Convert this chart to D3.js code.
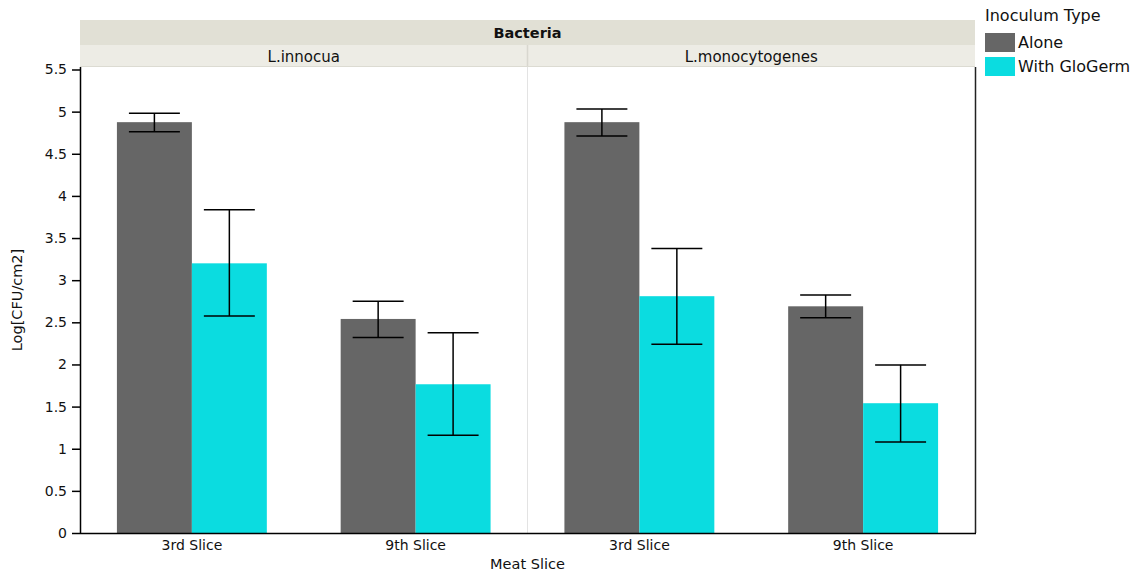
<!DOCTYPE html>
<html>
<head>
<meta charset="utf-8">
<script src="https://cdn.jsdelivr.net/npm/d3@7"></script>
<style>
  html, body { margin: 0; padding: 0; background: #fff; }
  svg { display: block; font-family: "DejaVu Sans", Verdana, sans-serif; }
</style>
</head>
<body>
<svg id="chart" width="1134" height="573"></svg>
<script>
// Bacteria panels, meat slice categories and inoculum series
const bacteria = ["L.innocua", "L.monocytogenes"];
const slices = ["3rd Slice", "9th Slice"];
const inoculum = ["Alone", "With GloGerm"];

// Mean Log[CFU/cm2], ordered: innocua 3rd, innocua 9th, mono 3rd, mono 9th
const aloneMean = [4.875, 2.54, 4.875, 2.69];
const aloneLow  = [4.76, 2.32, 4.71, 2.555];
const aloneHigh = [4.98, 2.75, 5.03, 2.825];

const gloMean = [3.20, 1.765, 2.81, 1.54];
const gloLow  = [2.575, 1.16, 2.24, 1.08];
const gloHigh = [3.835, 2.375, 3.375, 1.995];

const yTicks = [0, 0.5, 1, 1.5, 2, 2.5, 3, 3.5, 4, 4.5, 5, 5.5];
const colors = ["#666666", "#0bdce0"];

const FONT = "'DejaVu Sans', Verdana, sans-serif";
const svg = d3.select("#chart");
const left = 80, right = 975, plotTop = 67, plotBottom = 533;
const headTop = 20, headMid = 45;

const rows = [];
bacteria.forEach((b, bi) => slices.forEach((s, si) => {
  const k = bi * 2 + si;
  rows.push({ b, s, series: "Alone", mean: aloneMean[k], lo: aloneLow[k], hi: aloneHigh[k] });
  rows.push({ b, s, series: "With GloGerm", mean: gloMean[k], lo: gloLow[k], hi: gloHigh[k] });
}));

const xPanel = d3.scaleBand().domain(bacteria).range([left, right]);
const xSlice = d3.scaleBand().domain(slices).range([0, xPanel.bandwidth()])
  .paddingInner(0.33).paddingOuter(0.165);
const xSeries = d3.scaleBand().domain(inoculum).range([0, xSlice.bandwidth()]);
const color = d3.scaleOrdinal().domain(inoculum).range(colors);
const y = d3.scaleLinear().domain([0, 5.5]).range([plotBottom, plotTop + 2.5]);

// Header strips
svg.append("rect").attr("x", left).attr("y", headTop)
  .attr("width", right - left).attr("height", headMid - headTop).attr("fill", "#e1e0d5");
svg.append("text").attr("x", (left + right) / 2).attr("y", headTop + 18)
  .attr("text-anchor", "middle").style("font-size", "14.5px").attr("font-weight", "bold")
  .attr("fill", "#111").text("Bacteria");

bacteria.forEach(b => {
  const x0 = xPanel(b);
  svg.append("rect").attr("x", x0).attr("y", headMid)
    .attr("width", xPanel.bandwidth()).attr("height", plotTop - headMid).attr("fill", "#edece5");
  svg.append("text").attr("x", x0 + xPanel.bandwidth() / 2).attr("y", headMid + 17)
    .attr("text-anchor", "middle").style("font-size", "15px").attr("fill", "#111").text(b);
});
svg.append("line").attr("x1", xPanel(bacteria[1])).attr("x2", xPanel(bacteria[1]))
  .attr("y1", headMid).attr("y2", plotTop).attr("stroke", "#d8d7cf").attr("stroke-width", 1.5);
svg.append("line").attr("x1", left).attr("x2", right).attr("y1", plotTop - 0.5).attr("y2", plotTop - 0.5)
  .attr("stroke", "#dcdbd2");

// Panel divider in plot area
svg.append("line").attr("x1", xPanel(bacteria[1])).attr("x2", xPanel(bacteria[1]))
  .attr("y1", plotTop).attr("y2", plotBottom).attr("stroke", "#e3e3e3");

// Bars
const barX = d => xPanel(d.b) + xSlice(d.s) + xSeries(d.series);
svg.append("g").selectAll("rect").data(rows).join("rect")
  .attr("x", barX).attr("width", xSeries.bandwidth())
  .attr("y", d => y(d.mean)).attr("height", d => y(0) - y(d.mean))
  .attr("fill", d => color(d.series));

// Error bars
const capHalf = xSeries.bandwidth() * 0.34;
const eg = svg.append("g").attr("stroke", "#000").attr("stroke-width", 1.5).attr("fill", "none");
rows.forEach(d => {
  const cx = barX(d) + xSeries.bandwidth() / 2;
  eg.append("line").attr("x1", cx).attr("x2", cx).attr("y1", y(d.hi)).attr("y2", y(d.lo));
  eg.append("line").attr("x1", cx - capHalf).attr("x2", cx + capHalf).attr("y1", y(d.hi)).attr("y2", y(d.hi));
  eg.append("line").attr("x1", cx - capHalf).attr("x2", cx + capHalf).attr("y1", y(d.lo)).attr("y2", y(d.lo));
});

// Right frame
svg.append("line").attr("x1", right + 0.5).attr("x2", right + 0.5)
  .attr("y1", plotTop).attr("y2", plotBottom).attr("stroke", "#222").attr("stroke-width", 1.5);

// Y axis
const yAxis = svg.append("g").attr("transform", `translate(${left},0)`)
  .call(d3.axisLeft(y).tickValues(yTicks).tickSize(8).tickPadding(5).tickFormat(d3.format("")));
yAxis.attr("font-family", null).attr("font-size", null);
yAxis.select(".domain").attr("stroke", "#000").attr("stroke-width", 1.5)
  .attr("d", `M0.5,${plotTop}V${plotBottom}`);
yAxis.selectAll(".tick line").attr("stroke", "#000").attr("stroke-width", 1.5);
yAxis.selectAll(".tick text").style("font-size", "14px").style("font-family", FONT).attr("fill", "#111");

// X axis
const xg = svg.append("g").attr("transform", `translate(0,${plotBottom})`);
xg.append("line").attr("x1", left).attr("x2", right + 1).attr("y1", 0.5).attr("y2", 0.5)
  .attr("stroke", "#000").attr("stroke-width", 1.5);
bacteria.forEach(b => {
  const ax = d3.axisBottom(d3.scaleBand().domain(slices)
    .range([xPanel(b), xPanel(b) + xPanel.bandwidth()]).paddingInner(0.33).paddingOuter(0.165))
    .tickSize(0).tickPadding(7);
  const g = xg.append("g").call(ax);
  g.attr("font-family", null).attr("font-size", null);
  g.select(".domain").remove();
  g.selectAll(".tick text").style("font-size", "14px").style("font-family", FONT).attr("fill", "#111");
});

// Axis titles
svg.append("text").attr("x", (left + right) / 2).attr("y", 569)
  .attr("text-anchor", "middle").style("font-size", "14.5px").attr("fill", "#111").text("Meat Slice");
svg.append("text").attr("transform", `translate(22,${(plotTop + plotBottom) / 2}) rotate(-90)`)
  .attr("text-anchor", "middle").style("font-size", "14.5px").attr("fill", "#111").text("Log[CFU/cm2]");

// Legend
const lg = svg.append("g").attr("transform", "translate(985,0)");
lg.append("text").attr("x", 0).attr("y", 21).style("font-size", "16px").attr("fill", "#111").text("Inoculum Type");
inoculum.forEach((s, i) => {
  lg.append("rect").attr("x", 0).attr("y", 33 + i * 24).attr("width", 30).attr("height", 19)
    .attr("fill", color(s));
  lg.append("text").attr("x", 33).attr("y", 48 + i * 24).style("font-size", "16px").attr("fill", "#111").text(s);
});
</script>
</body>
</html>
